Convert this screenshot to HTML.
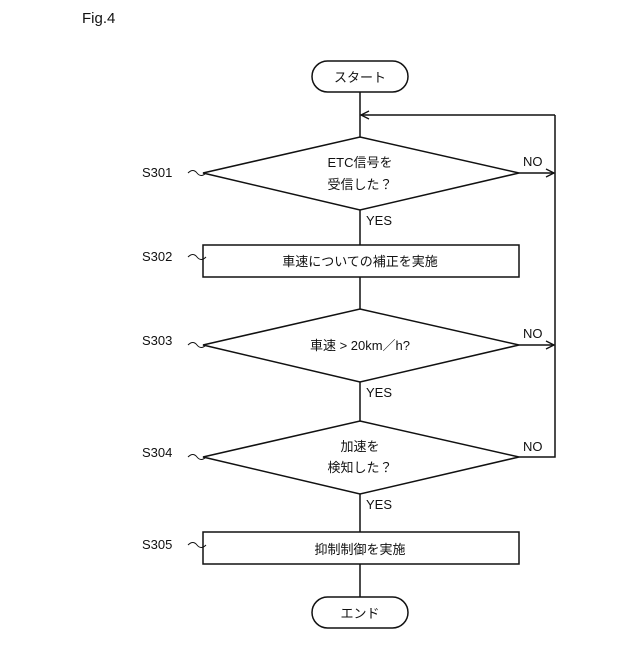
<!DOCTYPE html>
<html><head><meta charset="utf-8"><style>
html,body{margin:0;padding:0;background:#fff}
svg text{font-family:"Liberation Sans","Noto Sans CJK JP",sans-serif;fill:#111}
</style></head><body>
<svg width="640" height="640" viewBox="0 0 640 640" xmlns="http://www.w3.org/2000/svg">
<defs><marker id="a" markerWidth="10" markerHeight="10" refX="9" refY="5" orient="auto" markerUnits="userSpaceOnUse"><path d="M1,1 L9,5 L1,9" fill="none" stroke="#111" stroke-width="1.3"/></marker></defs>
<g stroke="#111" stroke-width="1.5" fill="none">
<text x="82" y="23" font-size="15" stroke="none">Fig.4</text>
<rect x="312" y="61" width="96" height="31" rx="15.5" fill="#fff"/>
<line x1="360" y1="92" x2="360" y2="137"/>
<line x1="555" y1="115" x2="361" y2="115" marker-end="url(#a)"/>
<polygon points="360,137 519,173 360,210 203,173" fill="#fff"/>
<line x1="360" y1="210" x2="360" y2="245"/>
<rect x="203" y="245" width="316" height="32" fill="#fff"/>
<line x1="360" y1="277" x2="360" y2="309"/>
<polygon points="360,309 519,345 360,382 203,345" fill="#fff"/>
<line x1="360" y1="382" x2="360" y2="421"/>
<polygon points="360,421 519,457 360,494 203,457" fill="#fff"/>
<line x1="360" y1="494" x2="360" y2="532"/>
<rect x="203" y="532" width="316" height="32" fill="#fff"/>
<line x1="360" y1="564" x2="360" y2="597"/>
<rect x="312" y="597" width="96" height="31" rx="15.5" fill="#fff"/>
<line x1="519" y1="173" x2="554" y2="173" marker-end="url(#a)"/>
<line x1="519" y1="345" x2="554" y2="345" marker-end="url(#a)"/>
<polyline points="519,457 555,457 555,115"/>
<path d="M188,173 q5,-5 9,0 t9,0" stroke-width="1"/>
<path d="M188,257 q5,-5 9,0 t9,0" stroke-width="1"/>
<path d="M188,345 q5,-5 9,0 t9,0" stroke-width="1"/>
<path d="M188,457 q5,-5 9,0 t9,0" stroke-width="1"/>
<path d="M188,545 q5,-5 9,0 t9,0" stroke-width="1"/>
</g>
<g font-size="13">
<text x="360" y="82" text-anchor="middle">スタート</text>
<text x="360" y="167" text-anchor="middle">ETC信号を</text>
<text x="360" y="189" text-anchor="middle">受信した？</text>
<text x="360" y="266" text-anchor="middle">車速についての補正を実施</text>
<text x="360" y="350" text-anchor="middle">車速 &gt; 20km／h?</text>
<text x="360" y="451" text-anchor="middle">加速を</text>
<text x="360" y="472" text-anchor="middle">検知した？</text>
<text x="360" y="554" text-anchor="middle">抑制制御を実施</text>
<text x="360" y="618" text-anchor="middle">エンド</text>
<text x="366" y="225">YES</text>
<text x="366" y="397">YES</text>
<text x="366" y="509">YES</text>
<text x="523" y="166">NO</text>
<text x="523" y="338">NO</text>
<text x="523" y="451">NO</text>
<text x="142" y="177">S301</text>
<text x="142" y="261">S302</text>
<text x="142" y="345">S303</text>
<text x="142" y="457">S304</text>
<text x="142" y="549">S305</text>
</g>
</svg>
</body></html>
